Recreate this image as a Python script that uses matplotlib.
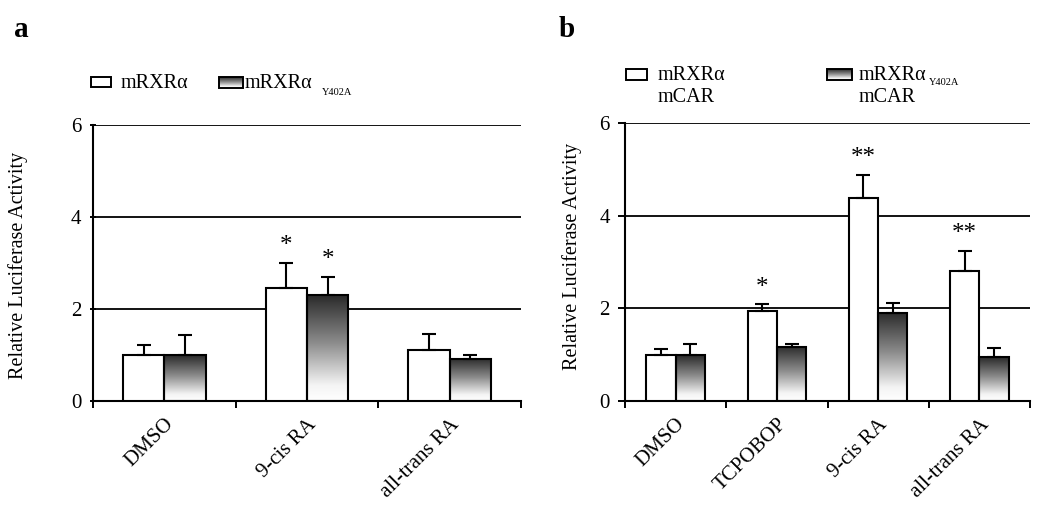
import numpy as np
import matplotlib.pyplot as plt
from matplotlib.colors import LinearSegmentedColormap
from matplotlib.patches import Rectangle

plt.rcParams['font.family'] = ['Liberation Serif', 'DejaVu Serif']

# panel a data
cats_a = ['DMSO', '9-cis RA', 'all-trans RA']
wt_a = [1.00, 2.45, 1.10]
wt_err_a = [0.22, 0.55, 0.35]
mut_a = [1.00, 2.30, 0.92]
mut_err_a = [0.43, 0.40, 0.08]
wt_star_a = ['', '*', '']
mut_star_a = ['', '*', '']

# panel b data
cats_b = ['DMSO', 'TCPOBOP', '9-cis RA', 'all-trans RA']
wt_b = [0.99, 1.94, 4.39, 2.80]
wt_err_b = [0.13, 0.15, 0.49, 0.44]
mut_b = [0.99, 1.17, 1.91, 0.94]
mut_err_b = [0.23, 0.05, 0.21, 0.20]
wt_star_b = ['', '*', '**', '**']
mut_star_b = ['', '', '', '']

W, H = 1050, 512
grad_cmap = LinearSegmentedColormap.from_list(
    'grad', [(0, '#2a2a2a'), (0.45, '#8c8c8c'), (0.85, '#f4f4f4'), (1, '#ffffff')])
grad_img = np.linspace(0, 1, 256).reshape(-1, 1)


def gradient_fill(ax, patch):
    x0, y0 = patch.get_x(), patch.get_y()
    w, h = patch.get_width(), patch.get_height()
    im = ax.imshow(grad_img, cmap=grad_cmap, vmin=0, vmax=1, aspect='auto',
                   extent=[x0, x0 + w, y0, y0 + h], origin='upper', zorder=2)
    im.set_clip_path(patch)


def draw_panel(ax, cats, wt, wt_err, mut, mut_err, wt_star, mut_star, bw, ytick_dir):
    x = np.arange(len(cats))
    ax.bar(x - bw / 2, wt, bw, facecolor='white', edgecolor='black', lw=1.5, zorder=3)
    b2 = ax.bar(x + bw / 2, mut, bw, facecolor='none', edgecolor='black', lw=1.5, zorder=3)
    for p in b2:
        gradient_fill(ax, p)
    ax.errorbar(x - bw / 2, wt, yerr=[np.zeros(len(wt)), wt_err], fmt='none',
                ecolor='black', elinewidth=1.5, capsize=5, capthick=1.5, zorder=4)
    ax.errorbar(x + bw / 2, mut, yerr=[np.zeros(len(mut)), mut_err], fmt='none',
                ecolor='black', elinewidth=1.5, capsize=5, capthick=1.5, zorder=4)
    for i in range(len(cats)):
        if wt_star[i]:
            ax.text(x[i] - bw / 2, wt[i] + wt_err[i] + 0.12, wt_star[i], ha='center',
                    va='bottom', fontsize=18)
        if mut_star[i]:
            ax.text(x[i] + bw / 2, mut[i] + mut_err[i] + 0.12, mut_star[i], ha='center',
                    va='bottom', fontsize=18)
    ax.set_xlim(-0.5, len(cats) - 0.5)
    ax.set_ylim(0, 6)
    ax.set_yticks([0, 2, 4, 6])
    ax.yaxis.grid(True, color='black', lw=1.3)
    ax.set_axisbelow(True)
    ax.set_xticks(x)
    ax.set_xticklabels(cats, rotation=45, ha='right', rotation_mode='anchor', fontsize=15)
    ax.set_xticks(np.arange(len(cats) + 1) - 0.5, minor=True)
    ax.tick_params(axis='x', which='major', length=0, pad=10)
    ax.tick_params(axis='x', which='minor', length=5, width=1.4, direction='out')
    ax.tick_params(axis='y', length=5, width=1.4, labelsize=15, pad=6, direction=ytick_dir)
    for s in ['top', 'right']:
        ax.spines[s].set_visible(False)
    for s in ['left', 'bottom']:
        ax.spines[s].set_linewidth(1.5)
    ax.set_ylabel('Relative Luciferase Activity', fontsize=14.5)


fig = plt.figure(figsize=(W / 100, H / 100), dpi=100)

ax_a = fig.add_axes([93 / W, 111 / H, 428 / W, 276 / H])
draw_panel(ax_a, cats_a, wt_a, wt_err_a, mut_a, mut_err_a, wt_star_a, mut_star_a, 0.29, 'inout')
ax_a.yaxis.set_label_coords(-0.152, 0.49)

ax_b = fig.add_axes([625 / W, 111 / H, 405 / W, 278 / H])
draw_panel(ax_b, cats_b, wt_b, wt_err_b, mut_b, mut_err_b, wt_star_b, mut_star_b, 0.29, 'out')
ax_b.yaxis.set_label_coords(-0.105, 0.52)


def fx(px):
    return px / W


def fy(py):
    return 1 - py / H


def legend_box(x0, x1, y0, y1, gradient):
    r = Rectangle((fx(x0), fy(y1)), fx(x1) - fx(x0), fy(y0) - fy(y1), transform=fig.transFigure,
                  facecolor='white' if not gradient else 'none', edgecolor='black', lw=1.4,
                  zorder=5)
    fig.add_artist(r)
    if gradient:
        iax = fig.add_axes([fx(x0), fy(y1), fx(x1) - fx(x0), fy(y0) - fy(y1)])
        iax.imshow(grad_img, cmap=grad_cmap, vmin=0, vmax=1, aspect='auto')
        iax.axis('off')


# panel labels
fig.text(fx(14), fy(37), 'a', fontsize=21, fontweight='bold', va='baseline')
fig.text(fx(559), fy(37), 'b', fontsize=21, fontweight='bold', va='baseline')

# legend a
legend_box(91, 111, 77, 87, False)
fig.text(fx(121), fy(88), 'mRXRα', fontsize=14.5, va='baseline')
legend_box(219, 243, 77, 88, True)
fig.text(fx(245), fy(88), 'mRXRα', fontsize=14.5, va='baseline')
fig.text(fx(322), fy(95), 'Y402A', fontsize=7.5, va='baseline')

# legend b
legend_box(626, 647, 69, 80, False)
fig.text(fx(658), fy(80), 'mRXRα', fontsize=14.5, va='baseline')
fig.text(fx(658), fy(102), 'mCAR', fontsize=14.5, va='baseline')
legend_box(827, 852, 69, 80, True)
fig.text(fx(859), fy(80), 'mRXRα', fontsize=14.5, va='baseline')
fig.text(fx(929), fy(85), 'Y402A', fontsize=7.5, va='baseline')
fig.text(fx(859), fy(102), 'mCAR', fontsize=14.5, va='baseline')

fig.savefig('out.png', dpi=100)
